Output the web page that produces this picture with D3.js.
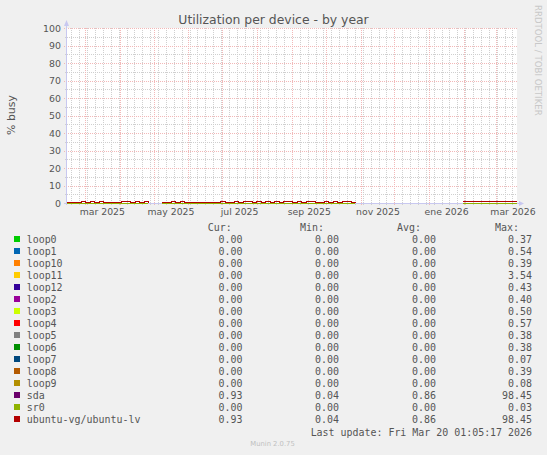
<!DOCTYPE html>
<html><head><meta charset="utf-8">
<script src="https://cdn.jsdelivr.net/npm/d3@7"></script>
<style>html,body{margin:0;padding:0;background:#f0f0f0;} svg{display:block;}</style>
</head><body>
<svg id="chart" width="547" height="455"></svg>
<script>
// ---------- data ----------
const chartTitle = "Utilization per device - by year";
const yAxisLabel = "% busy";
const endTime = new Date(2026, 2, 20, 1, 5, 17);
const spanDays = 400;
const stepDays = 4;
const yMajorTicks = [0, 10, 20, 30, 40, 50, 60, 70, 80, 90, 100];
const yMinorTicks = [5, 15, 25, 35, 45, 55, 65, 75, 85, 95];
const xLabelDates = ["2025-03-16", "2025-05-16", "2025-07-16", "2025-09-16", "2025-11-16", "2026-01-16", "2026-03-16"];
const xLabels = ["mar 2025", "may 2025", "jul 2025", "sep 2025", "nov 2025", "ene 2026", "mar 2026"];

const seriesNames = ["loop0","loop1","loop10","loop11","loop12","loop2","loop3","loop4","loop5","loop6","loop7","loop8","loop9","sda","sr0","ubuntu-vg/ubuntu-lv"];
const seriesColors = ["#00cc00","#0066b3","#ff8000","#ffcc00","#330099","#990099","#ccff00","#ff0000","#808080","#008f00","#00487d","#b35a00","#b38f00","#6b006b","#8fb300","#b30000"];
const curValues = ["0.00","0.00","0.00","0.00","0.00","0.00","0.00","0.00","0.00","0.00","0.00","0.00","0.00","0.93","0.00","0.93"];
const minValues = ["0.00","0.00","0.00","0.00","0.00","0.00","0.00","0.00","0.00","0.00","0.00","0.00","0.00","0.04","0.00","0.04"];
const avgValues = ["0.00","0.00","0.00","0.00","0.00","0.00","0.00","0.00","0.00","0.00","0.00","0.00","0.00","0.86","0.00","0.86"];
const maxValues = ["0.37","0.54","0.39","3.54","0.43","0.40","0.50","0.57","0.38","0.38","0.07","0.39","0.08","98.45","0.03","98.45"];
const lastUpdate = "Last update: Fri Mar 20 01:05:17 2026";
const footer = "Munin 2.0.75";
const watermark = "RRDTOOL / TOBI OETIKER";

// busy % (sda and ubuntu-vg/ubuntu-lv), one value per 4-day step, null = no data
const busyValues = [
  0.7,0.7,0.7,1.2,0.7,1.2,0.7,1.2,0.7,0.7,
  0.7,0.7,1.2,1.2,0.7,1.2,0.7,1.2,0.7,null,
  null,0.7,0.7,1.2,0.7,1.2,0.7,0.7,0.7,0.7,
  0.7,0.7,0.7,0.7,1.2,0.7,0.7,1.2,0.7,1.2,
  1.2,0.7,1.2,0.7,1.2,0.7,1.2,0.7,1.2,1.2,
  0.7,1.2,0.7,1.2,1.2,0.7,0.7,1.2,0.7,1.2,
  0.7,1.2,1.2,0.7,1.2,null,null,null,null,null,
  null,null,null,null,null,null,null,null,null,null,
  null,null,null,null,null,null,null,null,0.93,0.93,
  0.93,0.93,0.93,0.93,0.93,0.93,0.93,0.93,0.93,0.93,
  0.93
];
// idle devices (loops, sr0): flat zero, same gaps
const idleValues = [
  0,0,0,0,0,0,0,0,0,0,
  0,0,0,0,0,0,0,0,0,null,
  null,0,0,0,0,0,0,0,0,0,
  0,0,0,0,0,0,0,0,0,0,
  0,0,0,0,0,0,0,0,0,0,
  0,0,0,0,0,0,0,0,0,0,
  0,0,0,0,0,null,null,null,null,null,
  null,null,null,null,null,null,null,null,null,null,
  null,null,null,null,null,null,null,null,0,0,
  0,0,0,0,0,0,0,0,0,0,
  0
];
const seriesData = seriesNames.map(n => (n === "sda" || n === "ubuntu-vg/ubuntu-lv") ? busyValues : idleValues);

// ---------- layout ----------
const svg = d3.select("#chart");
const X0 = 67, X1 = 517, Y0 = 203, Y1 = 28;
const startTime = d3.timeDay.offset(endTime, -spanDays);
const x = d3.scaleTime().domain([startTime, endTime]).range([X0, X1]);
const y = d3.scaleLinear().domain([0, 100]).range([Y0, Y1]);
const parse = d3.timeParse("%Y-%m-%d");

svg.append("rect").attr("width", 547).attr("height", 455).attr("fill", "#f0f0f0");
svg.append("rect").attr("x", X0).attr("y", Y1).attr("width", X1 - X0).attr("height", Y0 - Y1).attr("fill", "#ffffff");

const minorCol = "#cfcfcf", majorCol = "#f2b8b8";
const g = svg.append("g").attr("shape-rendering", "crispEdges");
// minor vertical (weekly)
g.selectAll(".vmin").data(d3.timeMonday.range(startTime, endTime)).join("line")
  .attr("x1", d => Math.round(x(d)) + 0.5).attr("x2", d => Math.round(x(d)) + 0.5)
  .attr("y1", Y1).attr("y2", Y0 + 2).attr("stroke", minorCol).attr("stroke-dasharray", "1,1");
// minor horizontal
g.selectAll(".hmin").data(yMinorTicks).join("line")
  .attr("x1", X0 - 2).attr("x2", X1).attr("y1", d => Math.round(y(d)) + 0.5).attr("y2", d => Math.round(y(d)) + 0.5)
  .attr("stroke", minorCol).attr("stroke-dasharray", "1,1");
// major vertical (monthly)
g.selectAll(".vmaj").data(d3.timeMonth.range(startTime, endTime)).join("line")
  .attr("x1", d => Math.round(x(d)) + 0.5).attr("x2", d => Math.round(x(d)) + 0.5)
  .attr("y1", Y1).attr("y2", Y0 + 3).attr("stroke", majorCol).attr("stroke-dasharray", "1,1");
// major horizontal
g.selectAll(".hmaj").data(yMajorTicks.filter(v => v > 0)).join("line")
  .attr("x1", X0 - 3).attr("x2", X1).attr("y1", d => Math.round(y(d)) + 0.5).attr("y2", d => Math.round(y(d)) + 0.5)
  .attr("stroke", majorCol).attr("stroke-dasharray", "1,1");

// axes lines + arrows
const axisCol = "#c8c8f0";
g.append("line").attr("x1", X0 - 0.5).attr("x2", X0 - 0.5).attr("y1", Y0 + 2).attr("y2", Y1 - 3).attr("stroke", axisCol);
g.append("line").attr("x1", X0 - 3).attr("x2", X1 + 2).attr("y1", Y0 + 0.5).attr("y2", Y0 + 0.5).attr("stroke", axisCol);
svg.append("path").attr("d", `M${X0 - 3},${Y1 - 2}L${X0 - 0.5},${Y1 - 8}L${X0 + 2},${Y1 - 2}Z`).attr("fill", axisCol);
svg.append("path").attr("d", `M${X1 + 2},${Y0 - 2}L${X1 + 7},${Y0 + 0.5}L${X1 + 2},${Y0 + 3}Z`).attr("fill", axisCol);

// data lines
const tAt = i => d3.timeDay.offset(startTime, i * stepDays);
const line = d3.line().defined(d => d != null)
  .x((d, i) => Math.round(x(tAt(i))))
  .y(d => Math.round(y(d)) + 0.5)
  .curve(d3.curveStepAfter);
const lines = svg.append("g").attr("shape-rendering", "crispEdges");
seriesNames.forEach((n, k) => {
  lines.append("path").attr("d", line(seriesData[k])).attr("fill", "none")
    .attr("stroke", seriesColors[k]).attr("stroke-width", 1);
});

// tick labels
const tickFont = "DejaVu Sans, sans-serif";
const yAxis = svg.append("g").attr("transform", `translate(${X0},0)`)
  .call(d3.axisLeft(y).tickValues(yMajorTicks).tickSize(0).tickPadding(6).tickFormat(d3.format("d")));
yAxis.select(".domain").remove();
yAxis.selectAll("text").attr("font-family", tickFont).attr("font-size", 9.4).attr("fill", "#555");

const xAxis = svg.append("g").attr("transform", `translate(0,${Y0})`)
  .call(d3.axisBottom(x).tickValues(xLabelDates.map(parse)).tickSize(0).tickPadding(5)
    .tickFormat((d, i) => xLabels[i]));
xAxis.select(".domain").remove();
xAxis.selectAll("text").attr("font-family", tickFont).attr("font-size", 9.3).attr("fill", "#555");

// title, y label, watermark
svg.append("text").attr("x", 273.5).attr("y", 23.5).attr("text-anchor", "middle")
  .attr("font-family", tickFont).attr("font-size", 12.4).attr("fill", "#555").text(chartTitle);
svg.append("text").attr("transform", "translate(14.5,115) rotate(-90)").attr("text-anchor", "middle")
  .attr("font-family", tickFont).attr("font-size", 10.9).attr("fill", "#555").text(yAxisLabel);
svg.append("text").attr("transform", "translate(535,5) rotate(90)").attr("text-anchor", "start")
  .attr("font-family", tickFont).attr("font-size", 8.6).attr("fill", "#c8c8c8").text(watermark);

// legend
const mono = "DejaVu Sans Mono, monospace";
const legY0 = 239, legStep = 12, fs = 9.95;
const header = [["Cur:", 207.7], ["Min:", 300], ["Avg:", 397], ["Max:", 495]];
header.forEach(([t, hx]) => svg.append("text").attr("x", hx).attr("y", 227.3 + 3.5)
  .attr("font-family", mono).attr("font-size", fs).attr("fill", "#555").text(t));
const colRight = [242.5, 339, 436, 532];
const cols = [curValues, minValues, avgValues, maxValues];
seriesNames.forEach((n, k) => {
  const cy = legY0 + k * legStep;
  svg.append("rect").attr("x", 14).attr("y", cy - 3).attr("width", 6).attr("height", 6).attr("fill", seriesColors[k]);
  svg.append("text").attr("x", 26.7).attr("y", cy + 3.5).attr("font-family", mono).attr("font-size", fs)
    .attr("fill", "#555").text(n);
  cols.forEach((c, j) => svg.append("text").attr("x", colRight[j]).attr("y", cy + 3.5).attr("text-anchor", "end")
    .attr("font-family", mono).attr("font-size", fs).attr("fill", "#555").text(c[k]));
});
svg.append("text").attr("x", 532).attr("y", 432 + 3.5).attr("text-anchor", "end")
  .attr("font-family", mono).attr("font-size", fs).attr("fill", "#555").text(lastUpdate);
svg.append("text").attr("x", 272.5).attr("y", 446).attr("text-anchor", "middle")
  .attr("font-family", tickFont).attr("font-size", 6.8).attr("fill", "#c0c0c0").text(footer);
</script>
</body></html>
